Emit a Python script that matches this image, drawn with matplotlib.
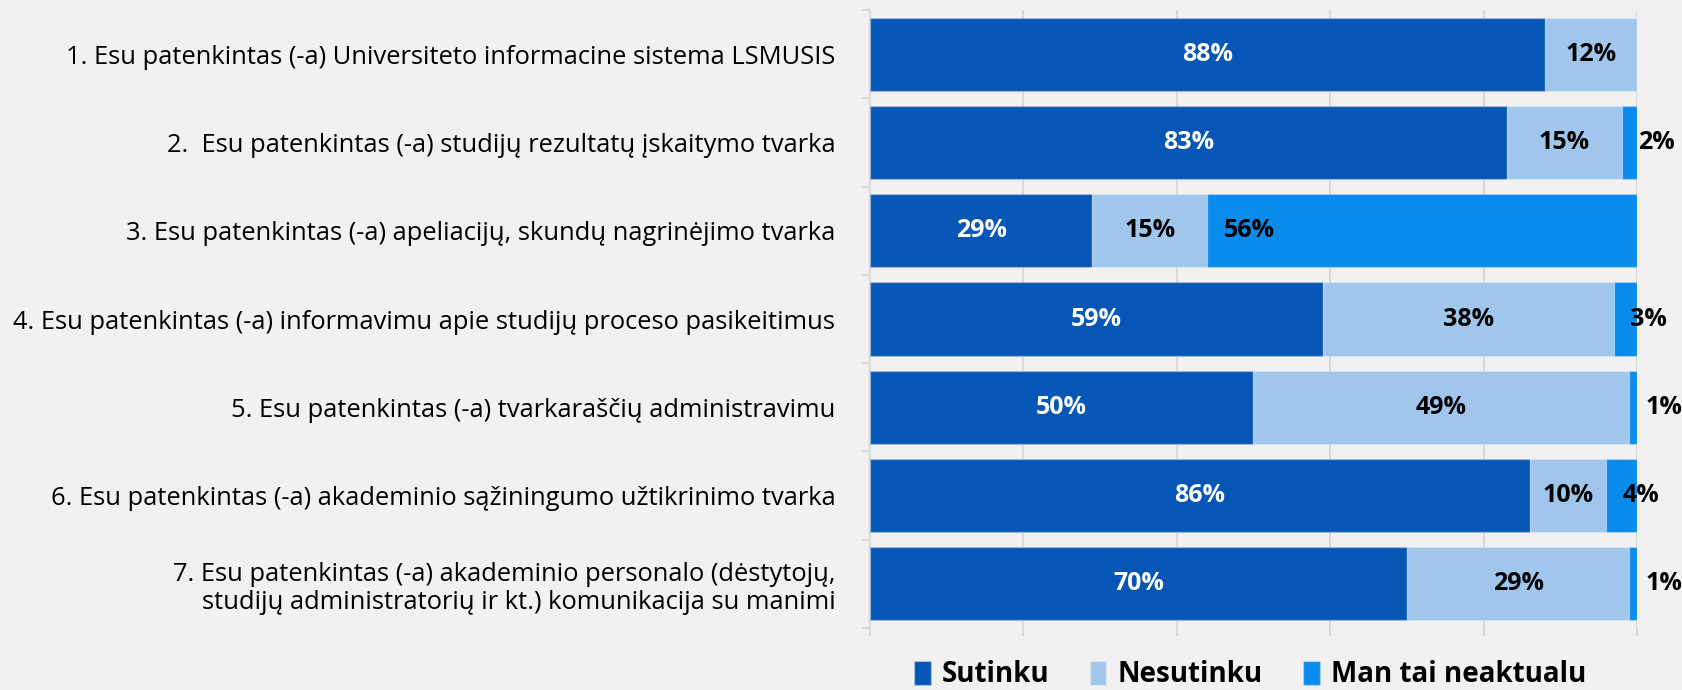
import matplotlib
matplotlib.use("Agg")
import matplotlib.pyplot as plt
from matplotlib.patches import Patch
import numpy as np

categories = [
    "1. Esu patenkintas (-a) Universiteto informacine sistema LSMUSIS",
    "2.  Esu patenkintas (-a) studijų rezultatų įskaitymo tvarka",
    "3. Esu patenkintas (-a) apeliacijų, skundų nagrinėjimo tvarka",
    "4. Esu patenkintas (-a) informavimu apie studijų proceso pasikeitimus",
    "5. Esu patenkintas (-a) tvarkaraščių administravimu",
    "6. Esu patenkintas (-a) akademinio sąžiningumo užtikrinimo tvarka",
    "7. Esu patenkintas (-a) akademinio personalo (dėstytojų,\nstudijų administratorių ir kt.) komunikacija su manimi",
]
sutinku = [88, 83, 29, 59, 50, 86, 70]
nesutinku = [12, 15, 15, 38, 49, 10, 29]
neaktualu = [0, 2, 56, 3, 1, 4, 1]
series_names = ["Sutinku", "Nesutinku", "Man tai neaktualu"]
colors = ["#0556B5", "#A0C7EB", "#0A8CEE"]
label_colors = ["white", "black", "black"]

plt.rcParams['font.family'] = ['Open Sans', 'DejaVu Sans']
BG = "#F2F0F1"
W, H = 1683, 690
fig = plt.figure(figsize=(W / 100, H / 100), dpi=100, facecolor=BG)
ax = fig.add_axes([870 / W, 1 - 628 / H, (1637 - 870) / W, (628 - 10) / H])
ax.set_facecolor(BG)

y = np.arange(len(categories))
left = np.zeros(len(categories))
data = [sutinku, nesutinku, neaktualu]
for i, vals in enumerate(data):
    vals = np.array(vals, dtype=float)
    ax.barh(y, vals, left=left, height=0.83, color=colors[i],
            edgecolor=(1, 1, 1, 0.25), linewidth=1, zorder=3)
    for yi, v, l in zip(y, vals, left):
        if v <= 0:
            continue
        if i < 2:
            ax.text(l + v / 2, yi, f"{int(v)}%", ha="center", va="center",
                    color=label_colors[i], fontsize=18, fontweight="bold",
                    zorder=5)
        else:
            ax.annotate(f"{int(v)}%", xy=(l, yi), xytext=(11.5, 0),
                        textcoords="offset points", ha="left", va="center",
                        color=label_colors[i], fontsize=18, fontweight="bold",
                        zorder=5, annotation_clip=False)
    left = left + vals

ax.set_xlim(0, 100)
ax.set_ylim(len(categories) - 0.5, -0.5)
ax.set_xticks(np.arange(0, 101, 20))
ax.set_xticklabels([])
ax.grid(axis="x", color="#D9D9D9", linewidth=1.5, zorder=0)
ax.tick_params(axis="x", length=6, color="#D9D9D9", width=1.5)
ax.set_yticks(y)
ax.set_yticklabels(categories, fontsize=18.4, linespacing=1.15)
ax.tick_params(axis="y", which="major", length=0, pad=25)
ax.set_yticks(np.arange(-0.5, len(categories)), minor=True)
ax.tick_params(axis="y", which="minor", length=6, color="#D9D9D9", width=1.5)
for s in ["top", "right", "bottom"]:
    ax.spines[s].set_visible(False)
ax.spines["left"].set_color("#D9D9D9")
ax.spines["left"].set_linewidth(1.5)

handles = [Patch(facecolor=c, edgecolor=(1, 1, 1, 0.3)) for c in colors]
fig.legend(handles, series_names, loc="center", bbox_to_anchor=(1250 / W, 1 - 675 / H),
           ncol=3, frameon=False, handlelength=0.6, handleheight=1.0,
           handletextpad=0.4, columnspacing=1.45,
           prop={"size": 20, "weight": "bold"})

fig.savefig("out.png", dpi=100, facecolor=BG)
